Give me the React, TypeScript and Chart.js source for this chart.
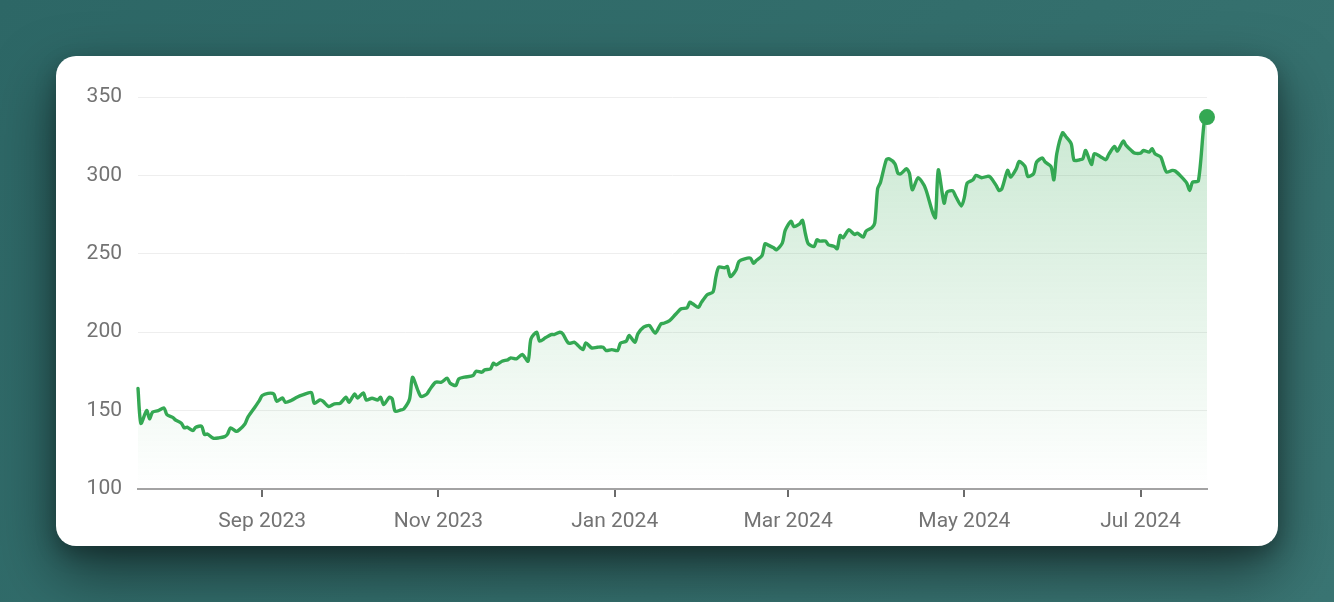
import React, { useEffect, useRef } from "react";
import { Chart, registerables } from "chart.js";

Chart.register(...registerables);

const START_DATE = "2023-07-20";
const END_DATE = "2024-07-24";

const dates = [
  "2023-07-20","2023-07-21","2023-07-23","2023-07-24","2023-07-25","2023-07-27","2023-07-29","2023-07-30",
  "2023-08-01","2023-08-02","2023-08-04","2023-08-05","2023-08-06","2023-08-08","2023-08-09","2023-08-11",
  "2023-08-12","2023-08-13","2023-08-15","2023-08-17","2023-08-19","2023-08-20","2023-08-21","2023-08-23",
  "2023-08-24","2023-08-26","2023-08-27","2023-08-29","2023-08-31","2023-09-01","2023-09-03","2023-09-05",
  "2023-09-06","2023-09-08","2023-09-09","2023-09-11","2023-09-13","2023-09-15","2023-09-18","2023-09-19",
  "2023-09-21","2023-09-22","2023-09-24","2023-09-26","2023-09-28","2023-09-30","2023-10-01","2023-10-03",
  "2023-10-04","2023-10-06","2023-10-07","2023-10-09","2023-10-11","2023-10-12","2023-10-13","2023-10-15",
  "2023-10-16","2023-10-17","2023-10-19","2023-10-20","2023-10-22","2023-10-23","2023-10-25","2023-10-26",
  "2023-10-28","2023-10-29","2023-10-31","2023-11-02","2023-11-04","2023-11-05","2023-11-07","2023-11-08",
  "2023-11-10","2023-11-13","2023-11-14","2023-11-16","2023-11-17","2023-11-19","2023-11-20","2023-11-21",
  "2023-11-23","2023-11-25","2023-11-26","2023-11-28","2023-11-30","2023-12-02","2023-12-03","2023-12-05",
  "2023-12-06","2023-12-08","2023-12-10","2023-12-11","2023-12-13","2023-12-14","2023-12-16","2023-12-18",
  "2023-12-19","2023-12-21","2023-12-22","2023-12-24","2023-12-26","2023-12-28","2023-12-29","2023-12-31",
  "2024-01-02","2024-01-03","2024-01-05","2024-01-06","2024-01-08","2024-01-09","2024-01-11","2024-01-13",
  "2024-01-15","2024-01-17","2024-01-18","2024-01-20","2024-01-22","2024-01-24","2024-01-26","2024-01-27",
  "2024-01-28","2024-01-30","2024-01-31","2024-02-02","2024-02-04","2024-02-05","2024-02-06","2024-02-08",
  "2024-02-09","2024-02-10","2024-02-12","2024-02-13","2024-02-15","2024-02-17","2024-02-18","2024-02-19",
  "2024-02-21","2024-02-22","2024-02-23","2024-02-25","2024-02-26","2024-02-28","2024-02-29","2024-03-02",
  "2024-03-03","2024-03-05","2024-03-06","2024-03-07","2024-03-08","2024-03-10","2024-03-11","2024-03-12",
  "2024-03-14","2024-03-15","2024-03-17","2024-03-18","2024-03-19","2024-03-20","2024-03-22","2024-03-24",
  "2024-03-25","2024-03-27","2024-03-28","2024-03-30","2024-03-31","2024-04-01","2024-04-02","2024-04-04",
  "2024-04-05","2024-04-07","2024-04-08","2024-04-09","2024-04-11","2024-04-12","2024-04-13","2024-04-15",
  "2024-04-17","2024-04-18","2024-04-20","2024-04-21","2024-04-22","2024-04-24","2024-04-25","2024-04-27",
  "2024-04-28","2024-04-30","2024-05-01","2024-05-02","2024-05-04","2024-05-05","2024-05-07","2024-05-09",
  "2024-05-10","2024-05-12","2024-05-13","2024-05-14","2024-05-16","2024-05-17","2024-05-19","2024-05-20",
  "2024-05-22","2024-05-23","2024-05-25","2024-05-26","2024-05-28","2024-05-29","2024-05-31","2024-06-01",
  "2024-06-02","2024-06-04","2024-06-05","2024-06-07","2024-06-08","2024-06-10","2024-06-11","2024-06-12",
  "2024-06-14","2024-06-15","2024-06-17","2024-06-19","2024-06-20","2024-06-22","2024-06-23","2024-06-25",
  "2024-06-26","2024-06-28","2024-06-29","2024-07-01","2024-07-02","2024-07-04","2024-07-05","2024-07-06",
  "2024-07-08","2024-07-09","2024-07-10","2024-07-12","2024-07-13","2024-07-15","2024-07-17","2024-07-18",
  "2024-07-19","2024-07-21","2024-07-23","2024-07-24",
];

const prices = [
  164.2,141.9,150,144.7,149,150,151.7,147.4,
  145.7,144,142,139,139.4,137.2,139.4,140,
  134.7,135.1,132.4,132.6,133.4,135,139,136.8,
  137.7,141.5,145.7,151,156.4,159.6,161,160.6,
  156,158,155.3,156.4,158.5,160,161.5,154.7,
  156.8,156,152.6,154.3,154.7,158.5,155.3,160.6,
  158,161.3,156.8,157.9,156.8,158.5,153.8,158.5,
  157.4,149.6,150.4,151,157.4,171.3,162.3,159,
  160.6,163.5,168.1,168.1,170.7,167.5,166,170.2,
  171.3,172.4,175.1,174.5,176,176.6,180.2,179.2,
  181.5,182.4,183.6,183,185.8,181.5,195.7,200,
  194.3,196.4,198.5,198.5,200,199,193,193.6,
  192.1,188.9,193.2,190,190.4,190.4,188.3,188.9,
  188.3,193,194.3,197.9,193.6,198.9,203.2,204.3,
  199.4,205.3,205.7,207.4,211.3,214.9,215.5,219.1,
  218.1,215.9,219,223.9,225.6,235.1,241.5,241.1,
  241.9,235.5,239.8,245.1,246.8,247.2,244,245.7,
  248.9,256.4,255.7,253.8,252.6,256.8,264.9,270.8,
  267.4,269.1,271.3,262.8,256.4,254.7,258.9,258.1,
  258.1,255.7,254.7,253.2,261.7,260.2,265.3,262.3,
  263.2,260.6,264.5,266.6,269.6,291.5,295.7,310,
  310.6,307.4,301.4,301,304.2,301.4,290.8,298.5,
  294,289.3,276.6,273,303.6,282.3,289.3,290.2,
  286.7,280.5,285.8,295.1,297.2,300,298.5,299.4,
  298.9,293.6,290.4,291.5,303.2,298.9,304.3,308.9,
  305.7,299.4,301.1,308.5,311.1,308.5,305.7,297.2,
  313.8,327.2,325.1,320.2,309.6,310,310.6,315.9,
  307,313.8,312.1,310,313.4,318.5,315.5,321.9,
  319.1,315.5,314.2,314.2,315.9,314.9,317,313.8,
  311.7,306.4,302.1,303.2,302.8,299.4,295.1,290.4,
  295.7,296.4,333.5,337.2,
];

const xTickDates = ["2023-09-01", "2023-11-01", "2024-01-01", "2024-03-01", "2024-05-01", "2024-07-01"];
const xTickLabels = ["Sep 2023", "Nov 2023", "Jan 2024", "Mar 2024", "May 2024", "Jul 2024"];
const yTickValues = [100, 150, 200, 250, 300, 350];

const DAY_MS = 86400000;
const toUTC = (iso: string) => {
  const [y, m, d] = iso.split("-").map(Number);
  return Date.UTC(y, m - 1, d);
};
const dayIndex = (iso: string) => Math.round((toUTC(iso) - toUTC(START_DATE)) / DAY_MS);

const GREEN = "#34a853";
const TEXT = "#737373";
const FONT = { family: "Roboto, 'Noto Sans', sans-serif", size: 21 };

export default function App() {
  const canvasRef = useRef<HTMLCanvasElement | null>(null);

  useEffect(() => {
    const canvas = canvasRef.current;
    if (!canvas) return;
    const points = dates.map((d, i) => ({ x: dayIndex(d), y: prices[i] }));
    const last = points.length - 1;
    const tickValues = xTickDates.map(dayIndex);

    const chart = new Chart(canvas, {
      type: "line",
      data: {
        datasets: [
          {
            data: points,
            borderColor: GREEN,
            borderWidth: 3.4,
            borderJoinStyle: "round",
            borderCapStyle: "round",
            tension: 0.25,
            fill: "start",
            clip: false as any,
            backgroundColor: (ctx: any) => {
              const { chart } = ctx;
              const area = chart.chartArea;
              if (!area) return "rgba(52,168,83,0.1)";
              const g = chart.ctx.createLinearGradient(0, area.top, 0, area.bottom);
              g.addColorStop(0, "rgba(52,168,83,0.27)");
              g.addColorStop(1, "rgba(52,168,83,0)");
              return g;
            },
            pointRadius: (ctx: any) => (ctx.dataIndex === last ? 8 : 0),
            pointBackgroundColor: GREEN,
            pointBorderWidth: 0,
            pointHoverRadius: 0,
          },
        ],
      },
      options: {
        animation: false,
        responsive: true,
        maintainAspectRatio: false,
        layout: { padding: { left: 0, right: 71, top: 41, bottom: 0 } },
        plugins: { legend: { display: false }, tooltip: { enabled: false } },
        events: [],
        scales: {
          x: {
            type: "linear",
            min: dayIndex(START_DATE),
            max: dayIndex(END_DATE),
            afterBuildTicks: (scale: any) => {
              scale.ticks = tickValues.map((v) => ({ value: v }));
            },
            afterFit: (scale: any) => {
              scale.height = 57;
            },
            grid: {
              display: true,
              drawOnChartArea: false,
              drawTicks: true,
              tickLength: 8,
              color: "#6b6b6b",
              lineWidth: 2,
            },
            border: { display: true, color: "#a3a3a3", width: 2 },
            ticks: {
              autoSkip: false,
              maxRotation: 0,
              padding: 12,
              color: TEXT,
              font: FONT,
              callback: (_v: any, i: number) => xTickLabels[i],
            },
          },
          y: {
            min: yTickValues[0],
            max: yTickValues[yTickValues.length - 1],
            afterBuildTicks: (scale: any) => {
              scale.ticks = yTickValues.map((v) => ({ value: v }));
            },
            afterFit: (scale: any) => {
              scale.width = 82;
            },
            grid: { color: "#eeeeee", lineWidth: 1, drawTicks: false },
            border: { display: false },
            ticks: { padding: 16, color: TEXT, font: FONT },
          },
        },
      },
    });
    return () => chart.destroy();
  }, []);

  return (
    <div
      style={{
        position: "fixed",
        inset: 0,
        background: "linear-gradient(135deg, #2d6766 0%, #336e6c 50%, #3a7573 100%)",
        overflow: "hidden",
      }}
    >
      <div
        style={{
          position: "absolute",
          left: 56,
          top: 56,
          width: 1222,
          height: 490,
          background: "#ffffff",
          borderRadius: 20,
          boxShadow: "0 26px 60px rgba(0,0,0,0.5), 0 8px 20px rgba(0,0,0,0.25)",
          overflow: "hidden",
        }}
      >
        <canvas ref={canvasRef} />
      </div>
    </div>
  );
}
